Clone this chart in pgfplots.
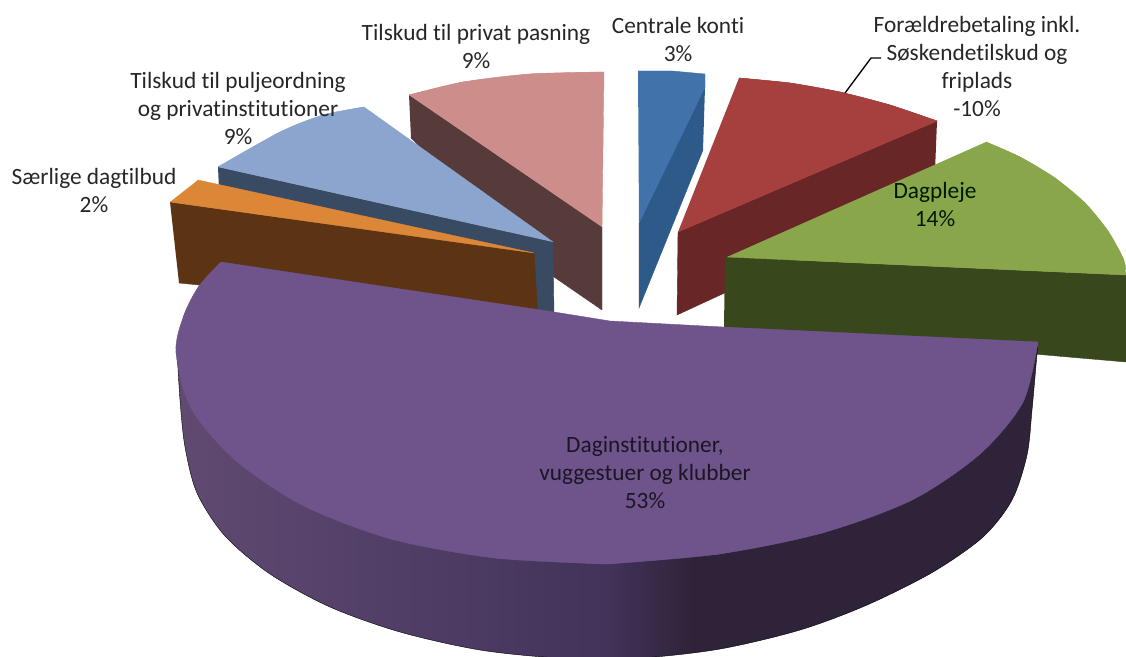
\documentclass[border=0pt]{standalone}
\usepackage{pgfplots}
\pgfplotsset{compat=1.18}
\usepackage{fontspec}
\setmainfont[Ligatures=NoCommon]{Carlito}
\definecolor{ptop}{HTML}{6F548C}
\definecolor{sa}{HTML}{604A72}
\definecolor{sb}{HTML}{42335A}
\definecolor{sc}{HTML}{2E2339}
\pgfdeclarehorizontalshading{pside}{100bp}{color(0bp)=(sa); color(25bp)=(sa); color(50bp)=(sb); color(55bp)=(sc); color(100bp)=(sc)}
\definecolor{pinkT}{HTML}{CD8D8B}
\definecolor{pinkS}{HTML}{573A3A}
\definecolor{bluT}{HTML}{8BA5CF}
\definecolor{bluS}{HTML}{394A63}
\definecolor{oraT}{HTML}{DC8638}
\definecolor{oraS}{HTML}{5C3313}
\definecolor{ctrT}{HTML}{4272AA}
\definecolor{ctrS}{HTML}{2E5A8A}
\definecolor{redT}{HTML}{A5403F}
\definecolor{redS}{HTML}{682726}
\definecolor{grnT}{HTML}{89A64B}
\definecolor{grnS}{HTML}{39471C}
\tikzset{lbl/.style={font=\fontsize{17.5}{21}\selectfont, align=center, text=#1, inner sep=0pt},
  lbl/.default={black!85}}
\begin{document}
\begin{tikzpicture}
\begin{axis}[
  at={(0pt,0pt)}, anchor=south west,
  scale only axis, width=844.5pt, height=492pt,
  xmin=0, xmax=1126, ymin=0, ymax=656, y dir=reverse,
  hide axis, clip=true,
  every axis plot/.append style={line width=0.3pt}
]
% Central konti
\addplot[fill=ctrS, draw=ctrS] coordinates {(705,87)(639,223)(639,308)(703,150)};
\addplot[fill=ctrT, draw=ctrT] coordinates {(638,71)(672,71)(705,74)(705,87)(639,223)};
% Red
\addplot[fill=redS, draw=redS] coordinates {(937,121)(678,232)(677,315)(934,196)};
\addplot[smooth, fill=redT, draw=redT] coordinates {(739,78)(790,83)(840,92)(890,105)(937,121)};
\addplot[fill=redT, draw=redT] coordinates {(739,78)(790,83)(840,92)(890,105)(937,121)(678,232)};
% Green
\addplot[fill=grnS, draw=grnS] coordinates {(725,257)(1126,275)(1126,362)(724,327)};
\addplot[smooth, fill=grnT, draw=grnT] coordinates {(986,142)(1020,157)(1055,178)(1085,203)(1108,231)(1123,258)(1126,270)};
\addplot[fill=grnT, draw=grnT] coordinates {(986,142)(1020,157)(1055,178)(1085,203)(1108,231)(1123,258)(1126,275)(727,257)};
% Pink
\addplot[fill=pinkS, draw=pinkS] coordinates {(409,95)(602,227)(602,310)(554,277)(411,138)};
\addplot[smooth, fill=pinkT, draw=pinkT] coordinates {(409,95)(463,82)(530,74)(604,72)};
\addplot[fill=pinkT, draw=pinkT] coordinates {(409,95)(463,82)(530,74)(604,72)(602,227)};
% Blue
\addplot[fill=bluS, draw=bluS] coordinates {(218,167)(553,242)(554,316)(537,316)(219,190)};
\addplot[smooth, fill=bluT, draw=bluT] coordinates {(218,167)(280,132)(323,115)(364,107)};
\addplot[fill=bluT, draw=bluT] coordinates {(218,167)(280,132)(323,115)(364,107)(553,242)};
% Orange
\addplot[fill=oraS, draw=oraS] coordinates {(170,202)(534,253)(538,318)(179,283)};
\addplot[fill=oraT, draw=oraT] coordinates {(198,180)(534,253)(170,202)};
% Purple side
\addplot[smooth, shading=pside] coordinates {(177,350)(180,400)(185,447)(197,493)(225,536)(270,574)(330,607)(400,632)(480,650)(560,658)(640,658)(720,649)(800,630)(867,605)(933,572)(983,537)(1012,500)(1027,455)(1032,410)(1038,342)};
% Purple top
\addplot[smooth, fill=ptop, draw=ptop] coordinates {(221,262)(199,286)(184,315)(176,352)(191,408)(234,459)(302,505)(391,539)(495,558)(607,564)};
\addplot[smooth, fill=ptop, draw=ptop] coordinates {(607,564)(719,554)(822,533)(912,500)(980,454)(1023,402)(1038,342)};
\addplot[fill=ptop, draw=ptop] coordinates {(221,262)(554,312)(610,321)(723,327)(1038,342)(1023,402)(980,454)(912,500)(822,533)(719,554)(607,564)(495,558)(391,539)(302,505)(234,459)(191,408)(176,352)(184,315)(199,286)};
% Leader
\addplot[black, line width=1pt] coordinates {(845,93)(871,58)(881,58)};
% Labels
\node[lbl] at (axis cs:678,39.5) {Centrale konti\\3\%};
\node[lbl] at (axis cs:977,66) {Forældrebetaling inkl.\\Søskendetilskud og\\friplads\\-10\%};
\node[lbl] at (axis cs:476,46) {Tilskud til privat pasning\\9\%};
\node[lbl] at (axis cs:238,108) {Tilskud til puljeordning\\og privatinstitutioner\\9\%};
\node[lbl] at (axis cs:94,190) {Særlige dagtilbud\\2\%};
\node[lbl={black!90!green}] at (axis cs:935,204.5) {Dagpleje\\14\%};
\node[lbl={ptop!25!black}] at (axis cs:645,473) {Daginstitutioner,\\vuggestuer og klubber\\53\%};
\end{axis}
\pgfresetboundingbox
\path[use as bounding box] (0pt,0pt) rectangle (844.5pt,492pt);
\end{tikzpicture}
\end{document}
